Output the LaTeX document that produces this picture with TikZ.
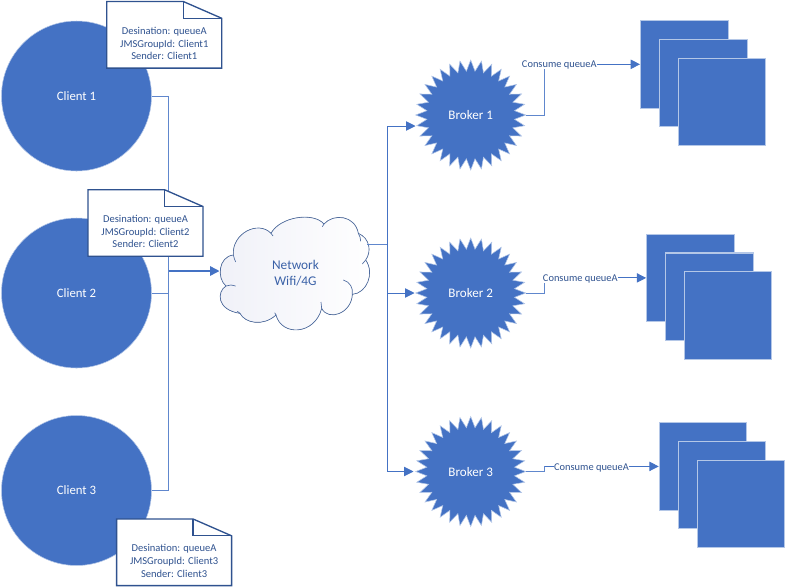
\documentclass[tikz,border=0pt]{standalone}
\usepackage{fontspec}
\setmainfont{Carlito}
\usetikzlibrary{arrows.meta,calc,shapes.geometric}
\definecolor{blockblue}{HTML}{4472C4}
\definecolor{blockedge}{HTML}{B4C7E7}
\definecolor{notedark}{HTML}{2F528F}
\definecolor{cloudtint}{HTML}{F0F1F8}
\tikzset{
   line/.style  = {-, blockblue!85, line width=0.6pt},
   arrow/.style = {-{Triangle[length=7pt,width=7pt]}, blockblue, line width=0.65pt},
   client/.style = {circle, fill=blockblue, draw=blockedge, line width=0.4pt, inner sep=0pt,
      minimum size=112.5pt, text=white, font=\fontsize{9.6}{11}\selectfont},
   broker/.style = {star, star points=32, star point ratio=1.25, fill=blockblue, draw=blockedge,
      line width=0.4pt, inner sep=0pt, minimum size=82.5pt, text=white, font=\fontsize{9.8}{11}\selectfont},
   worker/.style = {rectangle, fill=blockblue, draw=blockedge, line width=0.8pt, inner sep=0pt,
      minimum size=65.6pt},
   noteline/.style = {draw=notedark, fill=white, line width=1pt},
   notetext/.style = {align=center, text=notedark, inner sep=0pt,
      font=\fontsize{7.9}{9.4}\selectfont},
   flowlabel/.style = {fill=white, inner sep=0.5pt, text=notedark, font=\fontsize{7.8}{9}\selectfont},
}
\newcommand{\clientnote}[4]{
   \filldraw[noteline,shift={(#2,#3)}] (-57.5,33.3) -- (-57.5,-33.3) -- (19,-33.3) -- (57.5,-16.5)
      -- (57.5,33.3) -- cycle;
   \draw[noteline,fill=none,shift={(#2,#3)}] (19,-33.3) -- (19,-16.5) -- (57.5,-16.5);
   \node[notetext] (#1) at (#2,#3+8.6) {Desination: queueA\\JMSGroupId: Client#4\\Sender: Client#4};
}
\begin{document}
\begin{tikzpicture}[x=0.75pt,y=-0.75pt]
   \useasboundingbox (0,0) rectangle (786,587);

   % clients
   \node[client] (client1) at (76.5,96)  {Client 1};
   \node[client] (client2) at (76.5,293) {Client 2};
   \node[client] (client3) at (76.5,490.5) {Client 3};

   % network cloud, traced
   \begin{scope}[shift={(200,210)},x=0.25pt,y=-0.25pt]
      \filldraw[draw=notedark!85, line width=0.5pt, left color=cloudtint, right color=white]
         (78,228) .. controls (50,205) and (55,140) .. (100,135)
         .. controls (95,70) and (175,30) .. (213,70)
         .. controls (240,20) and (340,5) .. (372,42)
         .. controls (400,10) and (465,15) .. (475,70)
         .. controls (510,85) and (515,125) .. (497,150)
         .. controls (525,190) and (500,250) .. (457,253)
         .. controls (455,310) and (385,335) .. (365,295)
         .. controls (345,375) and (245,380) .. (228,315)
         .. controls (190,350) and (135,340) .. (120,310)
         .. controls (50,300) and (50,245) .. (78,228) -- cycle;
      \draw[notedark!85, line width=0.5pt]
         (78,228) .. controls (88,224) and (98,224) .. (107,228)
         (100,135) .. controls (102,143) and (104,150) .. (107,156)
         (213,70) -- (219,78)
         (372,42) -- (367,50)
         (475,70) .. controls (480,78) and (482,86) .. (482,94)
         (497,150) -- (487,162)
         (457,253) .. controls (460,235) and (450,215) .. (430,210)
         (365,295) -- (363,276)
         (228,315) -- (224,308)
         (120,310) -- (112,304);
   \end{scope}
   \node[align=center, text=blockblue!85!black, inner sep=0pt, font=\fontsize{10}{12.5}\selectfont]
      (network) at (295.5,273) {Network\\Wifi/4G};
   \coordinate (netin)  at (219.5,271);
   \coordinate (netout) at (367,244);

   % brokers
   \node[broker] (broker1) at (470.7,115)   {Broker 1};
   \node[broker] (broker2) at (470.7,293)   {Broker 2};
   \node[broker] (broker3) at (470.7,471.5) {Broker 3};

   % consumers, back to front
   \foreach \nm/\x/\y in {1/684.3/64.3, 2/690.4/277.9, 3/703/466.4} {
      \node[worker] (stack\nm a) at (\x,\y) {};
      \node[worker] (stack\nm b) at (\x+19,\y+18.8) {};
      \node[worker] (stack\nm c) at (\x+37.8,\y+37.5) {};
   }

   % client side
   \coordinate (merge) at (168.5,271);
   \draw[line]  (client1.east) -| (merge);
   \draw[line]  (client2.east) -| (merge);
   \draw[line]  (client3.east) -| (merge);
   \draw[arrow,line width=1.1pt] (merge) -- (netin);

   % broker side
   \coordinate (fanout) at (387,244);
   \coordinate (broker1in) at (415.5,126);
   \coordinate (broker2in) at (414.5,293);
   \coordinate (broker3in) at (413.5,471.5);
   \draw[line]  (netout) -- (fanout);
   \draw[arrow] (fanout) |- (broker1in);
   \draw[arrow] (fanout) |- (broker2in);
   \draw[arrow] (fanout) |- (broker3in);

   % broker to consumers, the label sits over the line
   \coordinate (bend1) at (544.5,64.3);
   \coordinate (bend2) at (544.5,277.9);
   \coordinate (bend3) at (544.5,466.4);
   \draw[line]  (broker1.east) -| (bend1);
   \draw[line]  (broker2.east) -| (bend2);
   \draw[line]  (broker3.east) -| (bend3);
   \draw[arrow] (bend1) -- (stack1a.west);
   \draw[arrow] (bend2) -- (stack2a.west);
   \draw[arrow] (bend3) -- (stack3a.west);
   \node[flowlabel] (flow1) at (559.3,64.5)  {Consume queueA};
   \node[flowlabel] (flow2) at (580.3,278.5) {Consume queueA};
   \node[flowlabel] (flow3) at (591.5,467.5) {Consume queueA};

   % message notes on top
   \clientnote{note1}{164.3}{34.8}{1}
   \clientnote{note2}{145.5}{223}{2}
   \clientnote{note3}{174.1}{552.3}{3}
\end{tikzpicture}
\end{document}
